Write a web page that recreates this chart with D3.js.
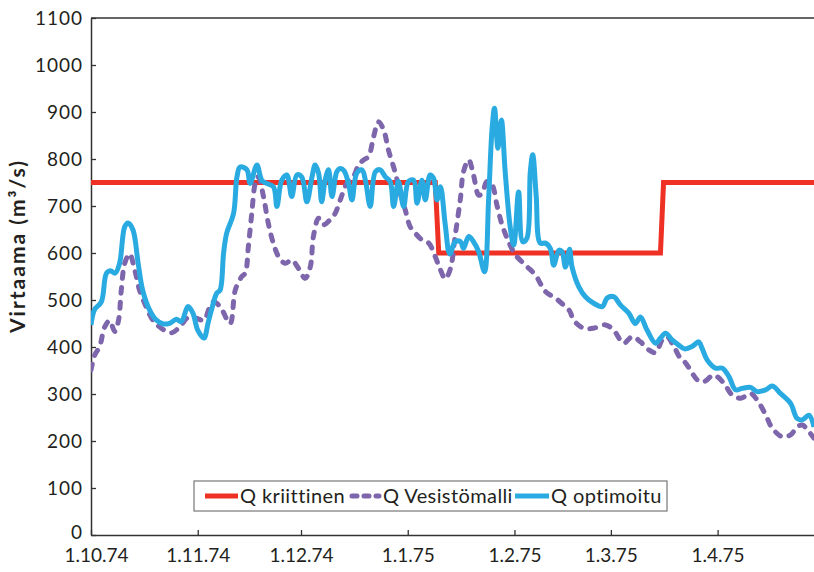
<!DOCTYPE html>
<html><head><meta charset="utf-8">
<script src="https://cdn.jsdelivr.net/npm/d3@7"></script>
<style>
html,body{margin:0;padding:0;background:#fff;}
text{font-family:Lato,"Open Sans",sans-serif;fill:#231F20;}
</style></head>
<body>
<svg id="chart" width="814" height="572"></svg>
<script>
// x = days since 1.10.1974
const tickDays = [0, 31, 61, 92, 123, 151, 182];
const tickLabels = ["1.10.74","1.11.74","1.12.74","1.1.75","1.2.75","1.3.75","1.4.75"];
const yTicks = [0,100,200,300,400,500,600,700,800,900,1000,1100];

const seriesNames = ["Q kriittinen","Q Vesistömalli","Q optimoitu"];

const critDays = [0, 100, 101, 165.4, 166.3, 210];
const critValues = [750, 750, 600, 600, 750, 750];

const vesDays = [0,1.1,2.5,4,5.4,6.9,8,8.8,9.8,11.2,12.7,14.1,16,18,20.4,23.3,25.8,28.2,30.6,32.8,34.5,35.6,37.5,40.4,41.9,43.8,44.8,45.7,46.7,47.7,48.6,50.1,51.5,53,54.5,56.4,58.3,60.3,62.2,63.7,64.6,66.1,67.5,69.2,70.9,72.4,74.3,76.2,77.7,79.2,80.6,82.1,83.5,85,86.4,88.4,89.8,91.3,92.7,94.2,96.1,98.1,100,101.5,102.9,104.4,105.8,107.3,108.2,109.7,111.1,112.6,113.6,115,116.5,117.9,119.4,121.3,123.3,126.2,129.1,132,134.9,137.3,139,140.2,143.1,146,149.4,151.8,154.7,157.2,159.6,162,164,165.9,167.3,169.3,171.2,172.5,174.1,176.1,178,180.9,183.8,186.2,188.7,191.6,193.5,196,197.9,200.8,203.2,205.1,206.6,208.5,210];
const vesValues = [351,383,401,443,456,433,457,521,578,598,564,521,486,457,440,430,443,463,461,457,486,496,486,450,521,550,557,613,684,748,762,720,663,620,592,578,585,567,546,571,635,674,660,669,684,713,748,762,787,798,805,848,879,862,819,770,727,691,656,642,628,621,592,564,545,567,638,716,773,798,766,723,727,752,745,702,660,624,596,574,553,518,504,489,477,457,440,440,447,436,408,422,411,394,388,415,422,401,376,368,351,330,326,340,323,298,291,301,287,255,227,209,213,230,234,220,206];

const optDays = [0,1,3,4.5,5.7,7,8.3,9.8,10.8,12.2,13.7,15,17,19,21,23,24.8,26.2,28.2,29.6,31,32.8,34,35,36.5,37.5,38.5,39.4,41.4,42.4,43.3,45.3,46.2,48.2,49.6,51,53,54,55.4,56.9,58.3,59.8,61.2,62.7,64.2,65.1,66.1,67,68,69,70,71.4,72.4,73.5,74.8,75.8,77.2,78.7,79.7,81.1,82.6,84,85.5,86.9,87.9,89.3,90.8,92.2,93.7,94.7,96.1,97.1,98.5,99.5,100.5,101.5,102.9,104.2,105.8,107.3,108.2,109.7,111.1,112.6,114.3,115.5,116.5,117.2,118.2,119.2,120.3,121.8,122.8,124.2,125.4,126.6,127.6,128.3,129.3,130.5,132,133.4,134.4,135.9,136.8,137.8,139,139.7,141.7,143.6,146,148.5,149.9,151.8,153.8,156.2,158.1,159.6,161.5,164,165.4,166.9,168.8,170.7,172.4,174.6,176.5,177.5,179,181.4,183.4,185.3,187.2,189.1,191.6,193.5,196,197.9,200.3,203.2,205.1,206.6,208.5,210];
const optValues = [447,479,496,557,562,557,578,656,664,649,578,521,479,457,449,451,459,454,486,472,436,419,451,479,514,521,599,642,684,762,783,777,748,787,755,748,741,699,755,766,720,766,762,709,762,787,770,709,755,777,720,773,780,775,748,713,770,777,755,699,773,777,762,752,699,752,699,752,755,706,755,713,766,759,713,741,660,598,624,624,610,635,624,603,560,716,865,908,823,883,773,653,617,730,624,631,773,809,723,621,621,610,574,606,603,570,608,571,528,507,493,486,504,507,489,472,450,464,436,408,419,429,415,404,396,401,411,397,372,355,355,337,309,312,314,305,309,317,301,280,248,245,255,230];

const svg = d3.select("#chart");
const mLeft = 91, mRight = 814, mTop = 18, mBottom = 535;
const t0 = Date.UTC(1974, 9, 1);
const dayToDate = d => new Date(t0 + d * 86400000);

const x = d3.scaleUtc().domain([dayToDate(0), dayToDate(210)]).range([mLeft, mRight]);
const y = d3.scaleLinear().domain([0, 1100]).range([mBottom, mTop]);

const axisColor = "#333";

// top border
svg.append("line").attr("x1", mLeft).attr("x2", mRight).attr("y1", y(1100)).attr("y2", y(1100))
  .attr("stroke", axisColor).attr("stroke-width", 1.3);

const yAxis = d3.axisLeft(y).tickValues(yTicks).tickSizeInner(-5).tickSizeOuter(0).tickPadding(8).tickFormat(d3.format("d"));
const gy = svg.append("g").attr("transform", `translate(${mLeft},0)`).call(yAxis);
gy.selectAll("text").attr("font-size", 19).style("font-family", "Lato, sans-serif").style("letter-spacing", "1px");
gy.selectAll(".tick").filter(d => d === 0).select("text").attr("y", -3);

const xAxis = d3.axisBottom(x).tickValues(tickDays.map(dayToDate)).tickSizeInner(-5).tickSizeOuter(0).tickPadding(14)
  .tickFormat((d, i) => tickLabels[i]);
const gx = svg.append("g").attr("transform", `translate(0,${mBottom})`).call(xAxis);
gx.selectAll("text").attr("font-size", 19).style("font-family", "Lato, sans-serif");
gx.selectAll(".tick").filter((d, i) => i === 0).select("text").attr("x", 5);

[gx, gy].forEach(g => {
  g.select(".domain").attr("stroke", axisColor).attr("stroke-width", 1.5);
  g.selectAll(".tick line").attr("stroke", axisColor).attr("stroke-width", 1.3);
  g.selectAll("text").attr("fill", "#231F20");
});

svg.append("text").attr("transform", `translate(25,246) rotate(-90)`)
  .attr("text-anchor", "middle").attr("font-size", 21).attr("font-weight", "bold")
  .style("letter-spacing", "2px")
  .text("Virtaama (m³/s)");

svg.append("clipPath").attr("id", "clip").append("rect")
  .attr("x", mLeft).attr("y", 0).attr("width", mRight - mLeft + 5).attr("height", mBottom);

const plot = svg.append("g").attr("clip-path", "url(#clip)");

const mk = (days, vals) => days.map((d, i) => [x(dayToDate(d)), y(vals[i])]);

const colors = ["#EE3124", "#7D66AC", "#29ABE2"];

plot.append("path").attr("d", d3.line().curve(d3.curveLinear)(mk(critDays, critValues)))
  .attr("fill", "none").attr("stroke", colors[0]).attr("stroke-width", 5);

plot.append("path").attr("d", d3.line().curve(d3.curveCatmullRom.alpha(0.5))(mk(vesDays, vesValues)))
  .attr("fill", "none").attr("stroke", colors[1]).attr("stroke-width", 5)
  .attr("stroke-dasharray", "6,9").attr("stroke-linecap", "round");

plot.append("path").attr("d", d3.line().curve(d3.curveCatmullRom.alpha(0.5))(mk(optDays, optValues)))
  .attr("fill", "none").attr("stroke", colors[2]).attr("stroke-width", 5)
  .attr("stroke-linejoin", "round");

// legend
const lg = svg.append("g");
lg.append("rect").attr("x", 194).attr("y", 481).attr("width", 473).attr("height", 30)
  .attr("fill", "#fff").attr("stroke", "#777").attr("stroke-width", 1.2);
const items = [
  {sx: 205, ex: 238, tx: 240},
  {sx: 349, ex: 381, tx: 383},
  {sx: 515, ex: 549, tx: 551}
];
items.forEach((it, i) => {
  const l = lg.append("line").attr("x1", it.sx).attr("x2", it.ex).attr("y1", 496).attr("y2", 496)
    .attr("stroke", colors[i]).attr("stroke-width", 5);
  if (i === 1) l.attr("stroke-dasharray", "5,7").attr("stroke-linecap", "round").attr("x1", it.sx + 3).attr("x2", it.ex - 2);
  lg.append("text").attr("x", it.tx).attr("y", 503).attr("font-size", 20).style("letter-spacing", "0.4px").text(seriesNames[i]);
});
</script>
</body></html>
